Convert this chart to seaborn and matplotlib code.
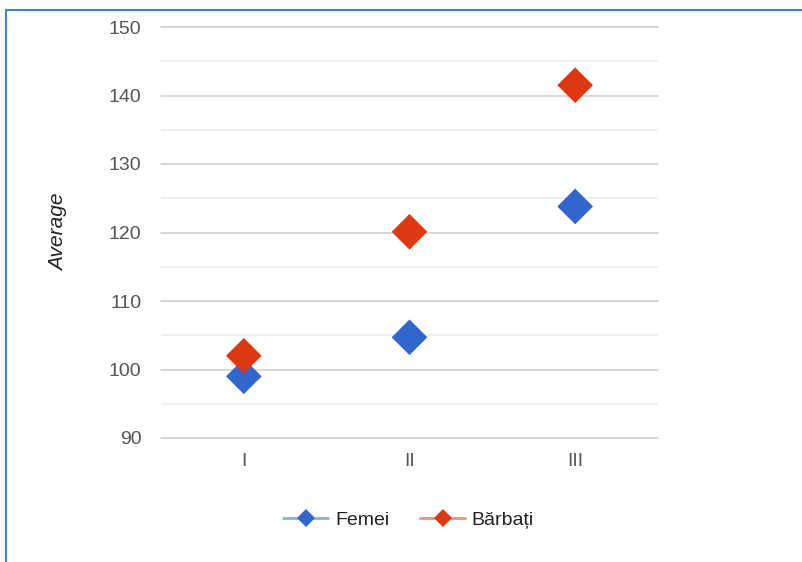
import matplotlib
matplotlib.use("Agg")
import matplotlib.pyplot as plt
from matplotlib.lines import Line2D
from matplotlib.colors import to_rgba
from matplotlib.ticker import MultipleLocator
import seaborn as sns
import pandas as pd

categories = ["I", "II", "III"]
series_names = ["Femei", "Bărbați"]
femei = [99.0, 104.7, 123.8]
barbati = [102.0, 120.1, 141.5]
y_label = "Average"

colors = {"Femei": "#3366cc", "Bărbați": "#dc3912"}

df = pd.DataFrame({
    "cat": categories * 2,
    "val": femei + barbati,
    "serie": [series_names[0]] * 3 + [series_names[1]] * 3,
})

sns.set_style("white")
plt.rcParams["font.family"] = ["Liberation Sans", "DejaVu Sans"]

fig = plt.figure(figsize=(8.03, 5.62), dpi=100)
ax = fig.add_axes([161 / 803, 124 / 562, 497 / 803, 411 / 562])

sns.scatterplot(data=df, x="cat", y="val", hue="serie", hue_order=series_names,
                palette=colors, marker="D", s=330, linewidth=0, ax=ax,
                legend=False, zorder=3)

ax.set_xlim(-0.5, 2.5)
ax.set_ylim(90, 150)
ax.yaxis.set_major_locator(MultipleLocator(10))
ax.yaxis.set_minor_locator(MultipleLocator(5))
ax.grid(axis="y", which="major", color="#cccccc", linewidth=1.1, zorder=0)
ax.grid(axis="y", which="minor", color="#ebebeb", linewidth=1.1, zorder=0)
ax.grid(axis="x", visible=False)
for gl in ax.get_ygridlines():
    gl.set_clip_on(False)
ax.set_axisbelow(True)
for s in ax.spines.values():
    s.set_visible(False)
ax.tick_params(axis="both", which="both", length=0, labelsize=14, labelcolor="#555555")
ax.tick_params(axis="y", pad=14)
ax.tick_params(axis="x", pad=11)
ax.set_xlabel("")
ax.set_ylabel(y_label, fontsize=15, style="italic", color="#222222")
ax.yaxis.set_label_coords(-0.188, 0.5)

handles = []
for n in series_names:
    handles.append(Line2D([0], [0], color=to_rgba(colors[n], 0.55), linewidth=2.0,
                          marker="D", markersize=9, markerfacecolor=colors[n],
                          markeredgewidth=0, label=n))
leg = fig.legend(handles=handles, loc="center", bbox_to_anchor=(0.509, 0.075),
                 ncol=2, frameon=False, fontsize=14, handlelength=2.3,
                 columnspacing=1.6, handletextpad=0.35)
for t in leg.get_texts():
    t.set_color("#222222")

border = "#4a7fc9"
fig.add_artist(Line2D([6 / 803, 6 / 803], [0, 1 - 10 / 562], color=border,
                      linewidth=1.5, transform=fig.transFigure))
fig.add_artist(Line2D([6 / 803, 1], [1 - 10 / 562, 1 - 10 / 562], color=border,
                      linewidth=1.5, transform=fig.transFigure))

fig.savefig("out.png", dpi=100)
